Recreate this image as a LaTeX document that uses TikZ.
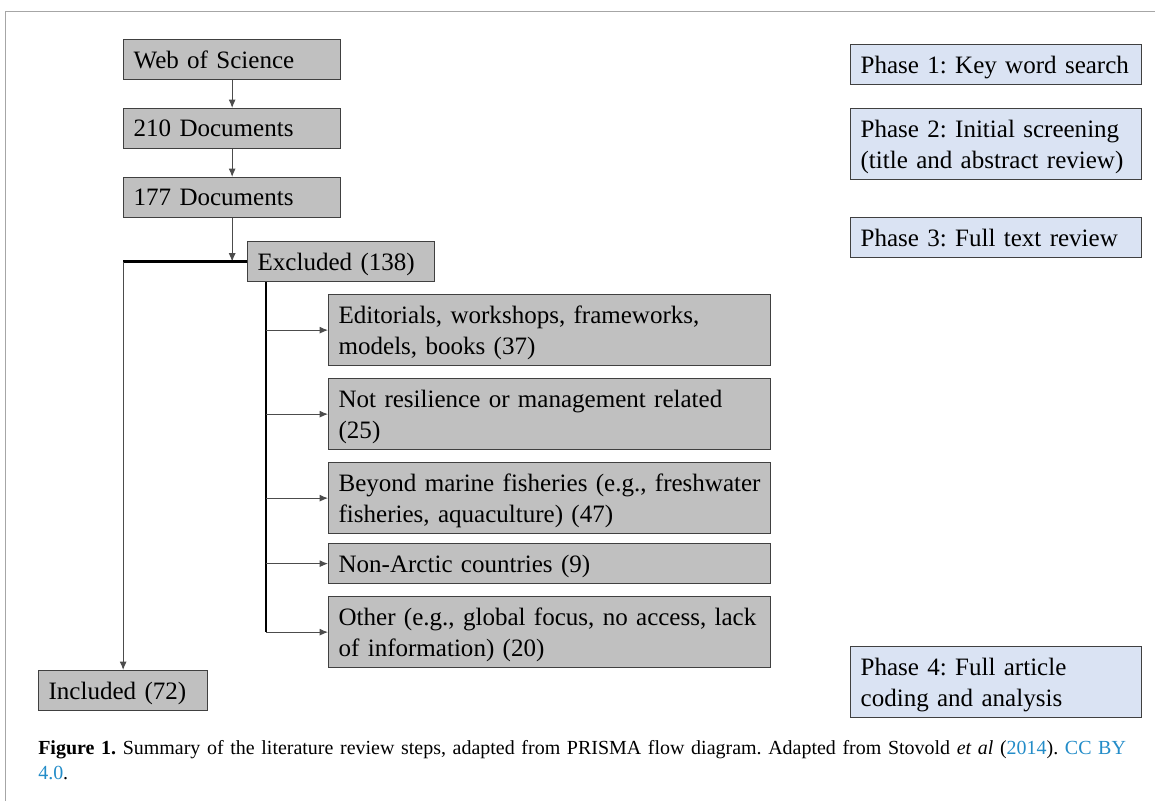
\documentclass[tikz,border=0pt]{standalone}
\usepackage{fontspec}
\setmainfont{Liberation Serif}
\usepackage{xcolor}
\usetikzlibrary{arrows.meta}

\definecolor{boxgray}{RGB}{192,192,192}
\definecolor{phaseblue}{RGB}{218,227,243}
\definecolor{linkblue}{RGB}{35,140,200}
\frenchspacing

\begin{document}
\begin{tikzpicture}[x=0.025cm, y=-0.025cm, >={Latex[length=6pt,width=5pt]},
    stage/.style={rectangle, draw=black!75, fill=boxgray, line width=0.9pt, anchor=north west, align=left, inner xsep=0.25cm, inner ysep=0pt, font=\fontsize{17.8}{22}\selectfont},
    oneline/.style={minimum height=1cm, text depth=0pt},
    twoline/.style={minimum height=1.775cm, text depth=21.6pt},
    phase/.style={stage, fill=phaseblue, text width=6.775cm},
    flow/.style={->, black!70, line width=0.7pt},
    trunk/.style={black, line width=2pt}]
    \useasboundingbox (0,0) rectangle (1155,801);
    \draw[black!35, line width=0.7pt] (5,801) -- (5,11) -- (1155,11);

    \node (web) [stage, oneline, text width=4.925cm] at (123,39) {Web of Science};
    \node (d210) [stage, oneline, text width=4.925cm] at (123,108) {210 Documents};
    \node (d177) [stage, oneline, text width=4.925cm] at (123,177) {177 Documents};
    \node (excl) [stage, oneline, text width=4.175cm] at (247,241) {Excluded (138)};
    \node (e1) [stage, twoline, text width=10.55cm] at (328,294) {Editorials, workshops, frameworks,\\models, books (37)};
    \node (e2) [stage, twoline, text width=10.55cm] at (328,378) {Not resilience or management related\\(25)};
    \node (e3) [stage, twoline, text width=10.55cm] at (328,462) {Beyond marine fisheries (e.g., freshwater\\fisheries, aquaculture) (47)};
    \node (e4) [stage, oneline, text width=10.55cm] at (328,543) {Non-Arctic countries (9)};
    \node (e5) [stage, twoline, text width=10.55cm] at (328,596) {Other (e.g., global focus, no access, lack\\of information) (20)};
    \node (incl) [stage, oneline, text width=3.725cm] at (38,670) {Included (72)};

    % phases
    \node (p1) [phase, oneline] at (850,44) {Phase 1: Key word search};
    \node (p2) [phase, twoline] at (850,108) {Phase 2: Initial screening\\(title and abstract review)};
    \node (p3) [phase, oneline] at (850,217) {Phase 3: Full text review};
    \node (p4) [phase, twoline] at (850,646) {Phase 4: Full article\\coding and analysis};

    \coordinate (jn) at (d177.south |- excl.west);
    \coordinate (lft) at (incl.north |- excl.west);
    \coordinate (top) at ([xshift=19*0.025cm]excl.south west);

    \draw[flow] (web) -- (d210);
    \draw[flow] (d210) -- (d177);
    \draw[flow] (d177) -- (jn);
    \draw[trunk] (excl.west) -- (lft);
    \draw[flow] (lft) -- (incl);

    % exclusion branches
    \draw[trunk] (top) -- (top |- e5.west);
    \foreach \b in {e1,e2,e3,e4,e5}
        \draw[flow] (top |- \b.west) -- (\b.west);

    \node (cap) [anchor=north west, inner sep=0pt, text width=27.9cm, align=left, font=\fontsize{14.2}{17.8}\selectfont] at (38,740) {\textbf{Figure 1.} Summary of the literature review steps, adapted from PRISMA flow diagram. Adapted from Stovold \textit{et al} (\textcolor{linkblue}{2014}). \textcolor{linkblue}{CC~BY}\\\textcolor{linkblue}{4.0}.};
\end{tikzpicture}
\end{document}
